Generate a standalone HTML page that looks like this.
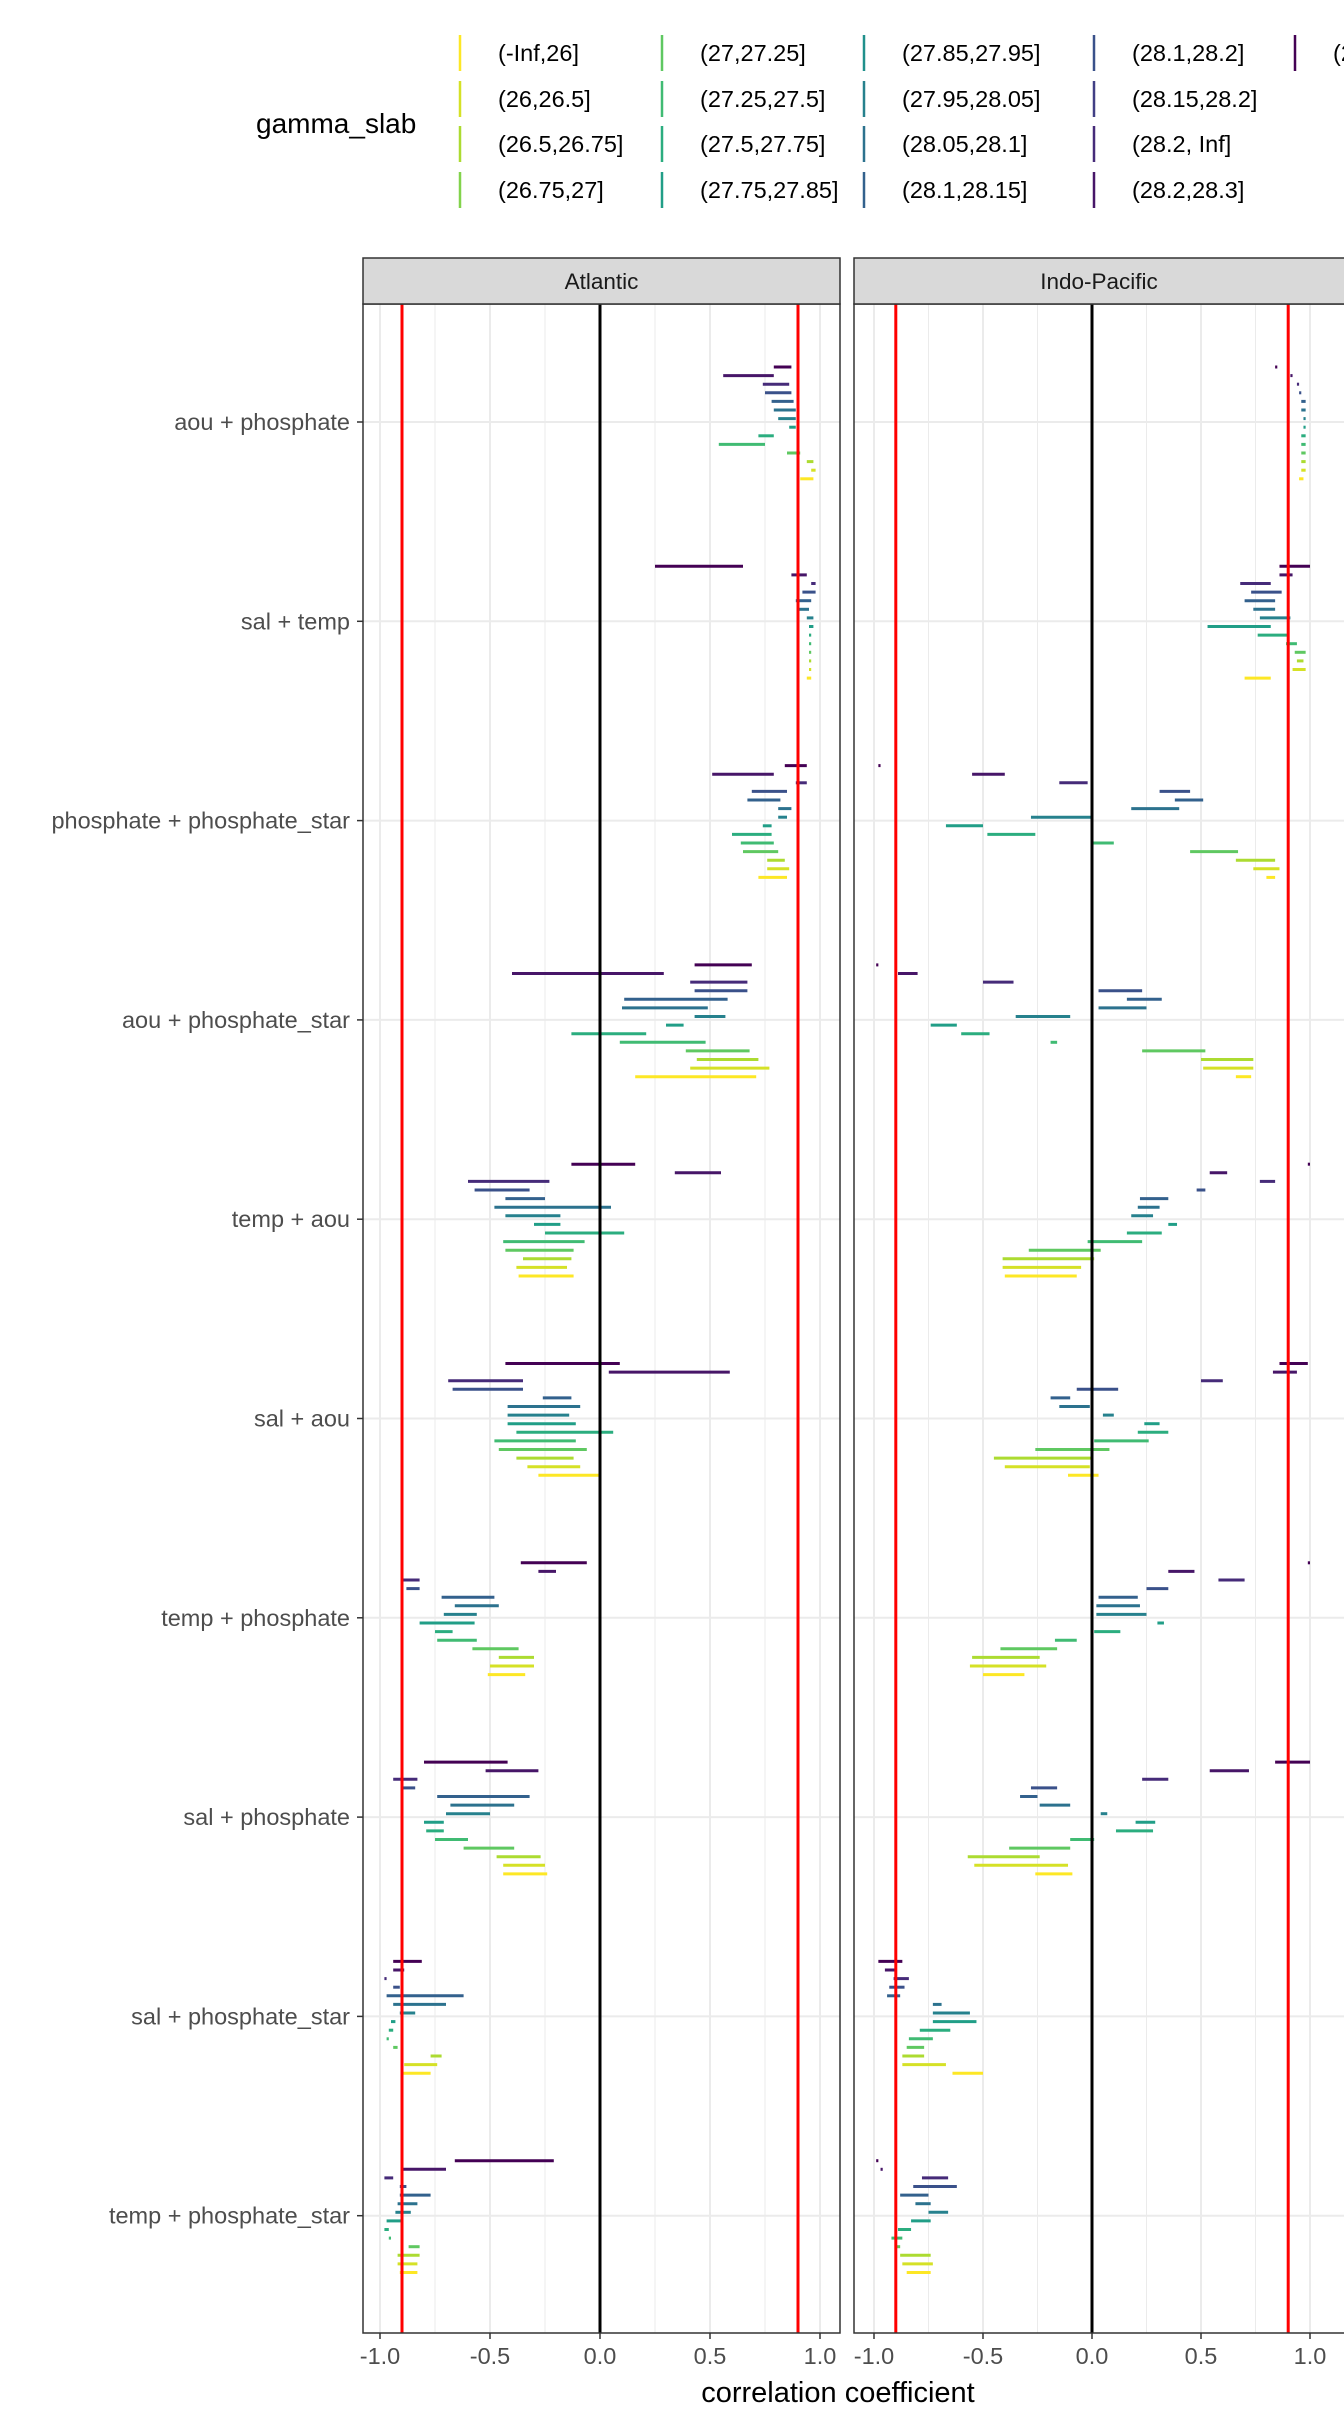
<!DOCTYPE html>
<html><head><meta charset="utf-8"><style>
body{margin:0;background:#fff;font-family:"Liberation Sans",sans-serif}
svg{display:block}
</style></head><body>
<svg id="chart" width="1344" height="2419" xmlns="http://www.w3.org/2000/svg"></svg>
<script>
const levels=["(-Inf,26]","(26,26.5]","(26.5,26.75]","(26.75,27]","(27,27.25]","(27.25,27.5]","(27.5,27.75]","(27.75,27.85]","(27.85,27.95]","(27.95,28.05]","(28.05,28.1]","(28.1,28.15]","(28.1,28.2]","(28.15,28.2]","(28.2, Inf]","(28.2,28.3]","(28.3,Inf]"];
const rows=["aou + phosphate","sal + temp","phosphate + phosphate_star","aou + phosphate_star","temp + aou","sal + aou","temp + phosphate","sal + phosphate","sal + phosphate_star","temp + phosphate_star"];
const panels=["Atlantic","Indo-Pacific"];
const xticks=[-1,-0.5,0,0.5,1];
const xtickLabels=["-1.0","-0.5","0.0","0.5","1.0"];
const atlantic=[
[[0.79,0.87],[0.56,0.79],[0.74,0.86],[0.75,0.87],[0.78,0.88],[0.79,0.89],[0.81,0.89],[0.86,0.89],[0.72,0.79],[0.54,0.75],[0.85,0.91],[0.94,0.97],[0.96,0.98],[0.91,0.97]],
[[0.25,0.65],[0.87,0.94],[0.96,0.98],[0.92,0.98],[0.89,0.96],[0.90,0.95],[0.94,0.97],[0.95,0.97],[0.95,0.96],[0.95,0.96],[0.95,0.96],[0.95,0.96],[0.95,0.96],[0.94,0.96]],
[[0.84,0.94],[0.51,0.79],[0.89,0.94],[0.69,0.85],[0.67,0.82],[0.81,0.87],[0.81,0.85],[0.74,0.78],[0.60,0.78],[0.64,0.79],[0.65,0.81],[0.76,0.84],[0.76,0.86],[0.72,0.85]],
[[0.43,0.69],[-0.40,0.29],[0.41,0.67],[0.43,0.67],[0.11,0.58],[0.10,0.49],[0.43,0.57],[0.30,0.38],[-0.13,0.21],[0.09,0.48],[0.39,0.68],[0.44,0.72],[0.41,0.77],[0.16,0.71]],
[[-0.13,0.16],[0.34,0.55],[-0.60,-0.23],[-0.57,-0.32],[-0.43,-0.25],[-0.48,0.05],[-0.43,-0.18],[-0.30,-0.18],[-0.25,0.11],[-0.44,-0.07],[-0.43,-0.12],[-0.35,-0.13],[-0.38,-0.15],[-0.37,-0.12]],
[[-0.43,0.09],[0.04,0.59],[-0.69,-0.35],[-0.67,-0.35],[-0.26,-0.13],[-0.42,-0.09],[-0.42,-0.14],[-0.42,-0.11],[-0.38,0.06],[-0.48,-0.11],[-0.46,-0.06],[-0.38,-0.12],[-0.33,-0.09],[-0.28,0.0]],
[[-0.36,-0.06],[-0.28,-0.20],[-0.90,-0.82],[-0.88,-0.82],[-0.72,-0.48],[-0.66,-0.46],[-0.71,-0.56],[-0.82,-0.57],[-0.75,-0.67],[-0.74,-0.56],[-0.58,-0.37],[-0.46,-0.30],[-0.50,-0.30],[-0.51,-0.34]],
[[-0.80,-0.42],[-0.52,-0.28],[-0.94,-0.83],[-0.90,-0.84],[-0.74,-0.32],[-0.68,-0.39],[-0.70,-0.50],[-0.80,-0.71],[-0.79,-0.71],[-0.75,-0.60],[-0.62,-0.39],[-0.47,-0.27],[-0.44,-0.25],[-0.44,-0.24]],
[[-0.94,-0.81],[-0.94,-0.89],[-0.98,-0.97],[-0.94,-0.91],[-0.97,-0.62],[-0.94,-0.70],[-0.91,-0.84],[-0.95,-0.93],[-0.96,-0.94],[-0.97,-0.96],[-0.94,-0.92],[-0.77,-0.72],[-0.89,-0.74],[-0.90,-0.77]],
[[-0.66,-0.21],[-0.90,-0.70],[-0.98,-0.94],[-0.91,-0.88],[-0.91,-0.77],[-0.92,-0.83],[-0.93,-0.86],[-0.97,-0.90],[-0.98,-0.96],[-0.96,-0.95],[-0.87,-0.82],[-0.92,-0.82],[-0.92,-0.83],[-0.91,-0.83]]
];
const indo=[
[[0.84,0.85],[0.91,0.92],[0.94,0.95],[0.95,0.96],[0.96,0.98],[0.96,0.98],[0.97,0.98],[0.97,0.98],[0.96,0.98],[0.96,0.98],[0.96,0.98],[0.96,0.98],[0.96,0.98],[0.95,0.97]],
[[0.86,1.0],[0.86,0.92],[0.68,0.82],[0.73,0.87],[0.70,0.84],[0.74,0.84],[0.77,0.91],[0.53,0.82],[0.76,0.90],[0.89,0.94],[0.93,0.98],[0.94,0.97],[0.92,0.98],[0.70,0.82]],
[[-0.98,-0.97],[-0.55,-0.40],[-0.15,-0.02],[0.31,0.45],[0.38,0.51],[0.18,0.40],[-0.28,0.0],[-0.67,-0.50],[-0.48,-0.26],[0.0,0.10],[0.45,0.67],[0.66,0.84],[0.74,0.86],[0.80,0.84]],
[[-0.99,-0.98],[-0.89,-0.80],[-0.50,-0.36],[0.03,0.23],[0.16,0.32],[0.03,0.25],[-0.35,-0.10],[-0.74,-0.62],[-0.60,-0.47],[-0.19,-0.16],[0.23,0.52],[0.50,0.74],[0.51,0.74],[0.66,0.73]],
[[0.99,1.0],[0.54,0.62],[0.77,0.84],[0.48,0.52],[0.22,0.35],[0.21,0.31],[0.18,0.28],[0.35,0.39],[0.16,0.32],[-0.02,0.23],[-0.29,0.04],[-0.41,0.01],[-0.41,-0.05],[-0.40,-0.07]],
[[0.86,0.99],[0.83,0.94],[0.50,0.60],[-0.07,0.12],[-0.19,-0.10],[-0.15,-0.01],[0.05,0.10],[0.24,0.31],[0.21,0.35],[0.01,0.26],[-0.26,0.08],[-0.45,0.0],[-0.40,-0.01],[-0.11,0.03]],
[[0.99,1.0],[0.35,0.47],[0.58,0.70],[0.25,0.35],[0.03,0.21],[0.02,0.22],[0.02,0.25],[0.30,0.33],[0.01,0.13],[-0.17,-0.07],[-0.42,-0.16],[-0.55,-0.24],[-0.56,-0.21],[-0.50,-0.31]],
[[0.84,1.0],[0.54,0.72],[0.23,0.35],[-0.28,-0.16],[-0.33,-0.25],[-0.24,-0.10],[0.04,0.07],[0.20,0.29],[0.11,0.28],[-0.10,0.01],[-0.38,-0.10],[-0.57,-0.24],[-0.54,-0.11],[-0.26,-0.09]],
[[-0.98,-0.87],[-0.95,-0.90],[-0.91,-0.84],[-0.93,-0.86],[-0.94,-0.88],[-0.73,-0.69],[-0.73,-0.56],[-0.73,-0.53],[-0.79,-0.65],[-0.84,-0.73],[-0.85,-0.77],[-0.87,-0.77],[-0.87,-0.67],[-0.64,-0.50]],
[[-0.99,-0.98],[-0.97,-0.96],[-0.78,-0.66],[-0.82,-0.62],[-0.88,-0.75],[-0.81,-0.74],[-0.75,-0.66],[-0.83,-0.74],[-0.89,-0.83],[-0.92,-0.87],[-0.90,-0.88],[-0.88,-0.74],[-0.87,-0.73],[-0.85,-0.74]]
];
const vir=[[68,1,84],[72,35,116],[64,67,135],[52,94,141],[41,120,142],[32,144,140],[34,167,132],[68,190,112],[121,209,81],[189,222,38],[253,231,37]];
function viridis(t){const p=t*(vir.length-1),i=Math.min(Math.floor(p),vir.length-2),f=p-i;const c=vir[i].map((v,j)=>Math.round(v+(vir[i+1][j]-v)*f));return `rgb(${c})`;}
function levelColor(li){return viridis(1-li/(levels.length-1));}
const svg=document.getElementById('chart');const NS="http://www.w3.org/2000/svg";
function el(tag,attrs,parent,text){const e=document.createElementNS(NS,tag);for(const k in attrs)e.setAttribute(k,attrs[k]);if(text!=null)e.textContent=text;(parent||svg).appendChild(e);return e;}
const lt=el('text',{x:256,y:133,'font-size':28,fill:'#000'},null,'gamma_slab');


const colX=[460,662,864,1094,1295],rowY=[53,99,144,190];
levels.forEach((lv,i)=>{const c=Math.floor(i/4),r=i%4;const g=el('g',{});


el('line',{x1:colX[c],x2:colX[c],y1:rowY[r]-18,y2:rowY[r]+18,stroke:levelColor(i),'stroke-width':2.5},g);
el('text',{x:colX[c]+38,y:rowY[r]+8,'font-size':23.5,fill:'#000'},g,lv);});
const P=[{x0:363,x1:840,c:600,s:220,data:atlantic},{x0:854,x1:1350,c:1092,s:218,data:indo}];
const pTop=304,pBot=2333;
function ys(r){return 422+r*199.3;}
P.forEach((p,pi)=>{const g=el('g',{});


const xs=v=>p.c+v*p.s;
el('rect',{x:p.x0,y:pTop,width:p.x1-p.x0,height:pBot-pTop,fill:'#fff'},g);
for(let v=-1;v<=1.001;v+=0.25){el('line',{x1:xs(v),x2:xs(v),y1:pTop,y2:pBot,stroke:'#ebebeb','stroke-width':Math.abs(v*2-Math.round(v*2))<0.01?2:1},g);}
rows.forEach((r,ri)=>el('line',{x1:p.x0,x2:p.x1,y1:ys(ri),y2:ys(ri),stroke:'#ebebeb','stroke-width':2},g));
p.data.forEach((row,ri)=>row.forEach((iv,k)=>{const li=Math.round(16-k*16/13);const y=ys(ri)-55+k*8.6;
const l=el('line',{x1:xs(iv[0]),x2:Math.max(xs(iv[1]),xs(iv[0])+2),y1:y,y2:y,stroke:levelColor(li),'stroke-width':3},g);

}));
[-0.9,0.9].forEach(v=>{const l=el('line',{x1:xs(v),x2:xs(v),y1:pTop,y2:pBot,stroke:'#ff0000','stroke-width':3},g);

});
const z=el('line',{x1:xs(0),x2:xs(0),y1:pTop,y2:pBot,stroke:'#000','stroke-width':3},g);


el('rect',{x:p.x0,y:pTop,width:p.x1-p.x0,height:pBot-pTop,fill:'none',stroke:'#333','stroke-width':1.5},g);
const st=el('rect',{x:p.x0,y:258,width:p.x1-p.x0,height:46,fill:'#d9d9d9',stroke:'#333','stroke-width':1.5},g);


el('text',{x:(p.x0+Math.min(p.x1,1344))/2,y:289,'font-size':22.5,fill:'#1a1a1a','text-anchor':'middle'},g,panels[pi]);
xticks.forEach((v,i)=>{el('line',{x1:xs(v),x2:xs(v),y1:pBot,y2:pBot+6,stroke:'#333','stroke-width':1.5},g);
const t=el('text',{x:xs(v),y:2364,'font-size':23.5,fill:'#4d4d4d','text-anchor':'middle'},g,xtickLabels[i]);

});
});
rows.forEach((r,ri)=>{el('line',{x1:357,x2:363,y1:ys(ri),y2:ys(ri),stroke:'#333','stroke-width':1.5});
const t=el('text',{x:350,y:ys(ri)+8,'font-size':23.5,fill:'#4d4d4d','text-anchor':'end'},null,r);

});
const xt=el('text',{x:838,y:2402,'font-size':29,fill:'#000','text-anchor':'middle'},null,'correlation coefficient');


</script>
</body></html>
